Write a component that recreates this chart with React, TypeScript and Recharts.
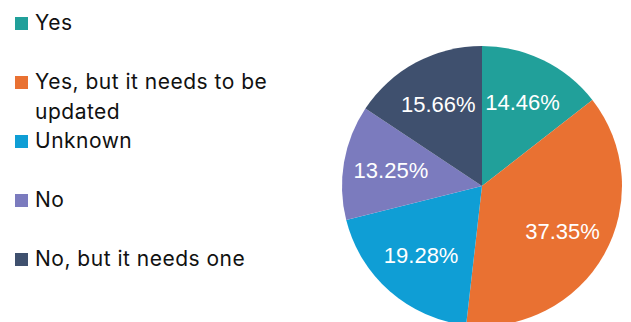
import { PieChart, Pie, Cell } from "recharts";

const categories = ["Yes", "Yes, but it needs to be updated", "Unknown", "No", "No, but it needs one"];
const counts = [12, 31, 16, 11, 13];
const colors = ["#21a09a", "#e97132", "#0f9ed5", "#7b7bbe", "#3f506e"];

const data = categories.map((name, i) => ({ name, value: counts[i] }));

const RAD = Math.PI / 180;

const renderLabel = ({ cx, cy, midAngle, outerRadius, percent }: any) => {
  const r = outerRadius * 0.66;
  const x = cx + r * Math.cos(-midAngle * RAD);
  const y = cy + r * Math.sin(-midAngle * RAD);
  return (
    <text
      x={x}
      y={y}
      fill="#ffffff"
      textAnchor="middle"
      dominantBaseline="central"
      fontSize={22}
      fontFamily='"Liberation Sans", Arial, sans-serif'
    >
      {`${(percent * 100).toFixed(2)}%`}
    </text>
  );
};

const LegendList = () => (
  <div
    style={{
      position: "absolute",
      left: 15,
      top: 8,
      fontFamily: "Inter, sans-serif",
      fontSize: 21,
      letterSpacing: 0.5,
      color: "#111",
    }}
  >
    {data.map((d, i) => (
      <div key={d.name} style={{ display: "flex", alignItems: "flex-start", height: 59 }}>
        <div style={{ width: 13, height: 13, background: colors[i], marginTop: 8.5, marginRight: 7, flexShrink: 0 }} />
        <div style={{ lineHeight: "30px", width: 250 }}>{d.name}</div>
      </div>
    ))}
  </div>
);

export default function App() {
  return (
    <div style={{ position: "absolute", left: 0, top: 0, width: 631, height: 322, background: "#fff", overflow: "hidden" }}>
      <PieChart width={631} height={322} margin={{ top: 0, right: 0, bottom: 0, left: 0 }}>
        <Pie
          data={data}
          dataKey="value"
          nameKey="name"
          cx={482}
          cy={186}
          outerRadius={140}
          startAngle={90}
          endAngle={-270}
          stroke="none"
          label={renderLabel}
          labelLine={false}
          isAnimationActive={false}
        >
          {data.map((d, i) => (
            <Cell key={d.name} fill={colors[i]} />
          ))}
        </Pie>
      </PieChart>
      <LegendList />
    </div>
  );
}
